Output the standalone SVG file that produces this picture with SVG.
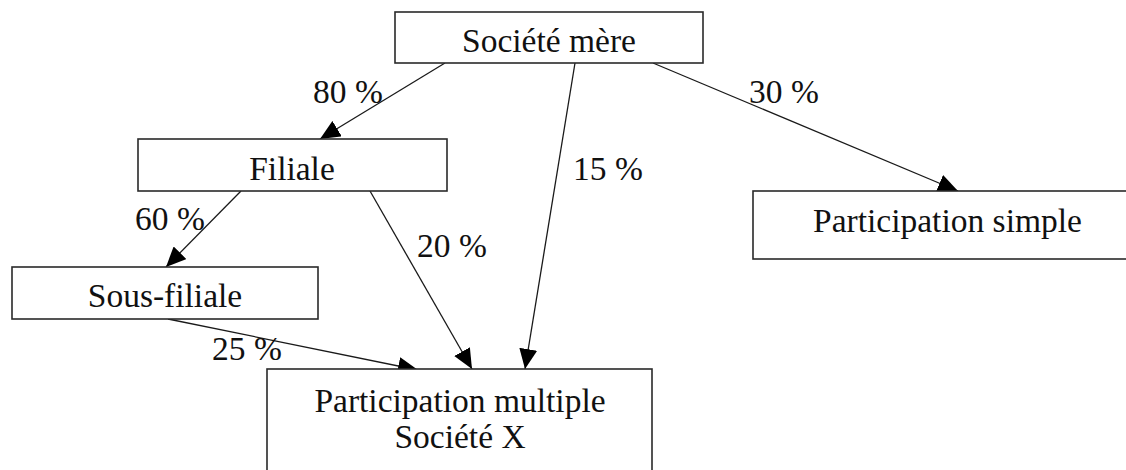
<svg xmlns="http://www.w3.org/2000/svg" width="1126" height="470" viewBox="0 0 1126 470">
<style>
.box{fill:#fff;stroke:#2a2a2a;stroke-width:1.6}
.lbl{font-family:"Liberation Serif","Times New Roman",serif;font-size:33.5px;fill:#111}
.c{text-anchor:middle}
.edge{stroke:#1a1a1a;stroke-width:1.3;fill:none;marker-end:url(#ah)}
</style>
<defs>
<marker id="ah" markerUnits="userSpaceOnUse" markerWidth="20" markerHeight="18" refX="20" refY="9" orient="auto" viewBox="0 0 20 18">
<path d="M0,0 L20,9 L0,18 z" fill="#000"/>
</marker>
</defs>
<rect width="1126" height="470" fill="#fff"/>
<g id="connectors">
<line class="edge" x1="445" y1="63" x2="320" y2="139"/>
<line class="edge" x1="241" y1="191" x2="166" y2="267"/>
<line class="edge" x1="575" y1="63" x2="525" y2="369"/>
<line class="edge" x1="653" y1="63" x2="958" y2="191"/>
<line class="edge" x1="370" y1="191" x2="472" y2="369"/>
<line class="edge" x1="168" y1="319" x2="418" y2="370"/>
<text class="lbl" x="313" y="103">80 %</text>
<text class="lbl" x="135" y="230">60 %</text>
<text class="lbl" x="212" y="360">25 %</text>
<text class="lbl" x="417" y="257">20 %</text>
<text class="lbl" x="573" y="180">15 %</text>
<text class="lbl" x="749" y="103">30 %</text>
</g>
<g id="societe-mere">
<rect class="box" x="395" y="12" width="308" height="51"/>
<text class="lbl c" x="549" y="52">Société mère</text>
</g>
<g id="filiale">
<rect class="box" x="138" y="139" width="309" height="52"/>
<text class="lbl c" x="292" y="180">Filiale</text>
</g>
<g id="sous-filiale">
<rect class="box" x="12" y="267" width="306" height="52"/>
<text class="lbl c" x="165" y="307">Sous-filiale</text>
</g>
<g id="participation-simple">
<rect class="box" x="753" y="191" width="389" height="68"/>
<text class="lbl c" x="947.5" y="232">Participation simple</text>
</g>
<g id="participation-multiple">
<rect class="box" x="267" y="369" width="385" height="110"/>
<text class="lbl c" x="460" y="412">Participation multiple</text>
<text class="lbl c" x="460" y="448">Société X</text>
</g>
</svg>
